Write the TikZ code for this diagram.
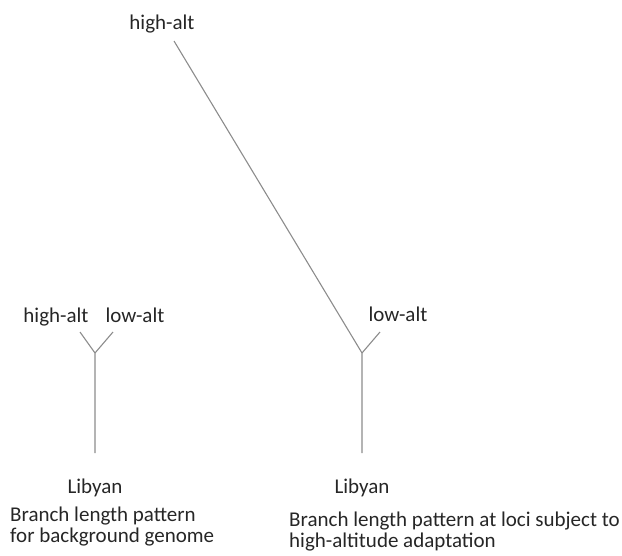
\documentclass[tikz,border=0pt]{standalone}
\usepackage{fontspec}
\setmainfont{Carlito}
\usetikzlibrary{positioning}

\begin{document}
\begin{tikzpicture}[
    x=1pt, y=-1pt,
    lbl/.style={font=\fontsize{21}{20.5}\selectfont, text=black!85, inner sep=0pt, anchor=base},
    capt/.style={lbl, anchor=base west, align=left},
    branch/.style={draw=black!45, line width=1.1pt}
]
    \useasboundingbox (0,0) rectangle (622,555);

    % Background tree
    \coordinate (bgroot) at (95,453);
    \coordinate (bgfork) at (95,353);
    \coordinate (bghigh) at (80,332);
    \coordinate (bglow)  at (113,332);
    \node[lbl] (bghighlbl) at (56,322) {high-alt};
    \node[lbl] (bglowlbl)  at (135,322) {low-alt};
    \node[lbl] (bglib)     at (95,493) {Libyan};
    \draw[branch] (bgroot) -- (bgfork) -- (bghigh);
    \draw[branch] (bgfork) -- (bglow);

    % Adaptation tree
    \coordinate (adroot) at (362,453);
    \coordinate (adfork) at (362,353);
    \coordinate (adhigh) at (174,41);
    \coordinate (adlow)  at (380,332);
    \node[lbl] (adhighlbl) at (162,29) {high-alt};
    \node[lbl] (adlowlbl)  at (398,321) {low-alt};
    \node[lbl] (adlib)     at (362,493) {Libyan};
    \draw[branch] (adroot) -- (adfork) -- (adhigh);
    \draw[branch] (adfork) -- (adlow);

    % Captions (base anchor sits on the last line)
    \node[capt] (bgcapt) at (10,542) {Branch length pattern\\for background genome};
    \node[capt] (adcapt) at (289,547) {Branch length pattern at loci subject to\\high-altitude adaptation};
\end{tikzpicture}
\end{document}
